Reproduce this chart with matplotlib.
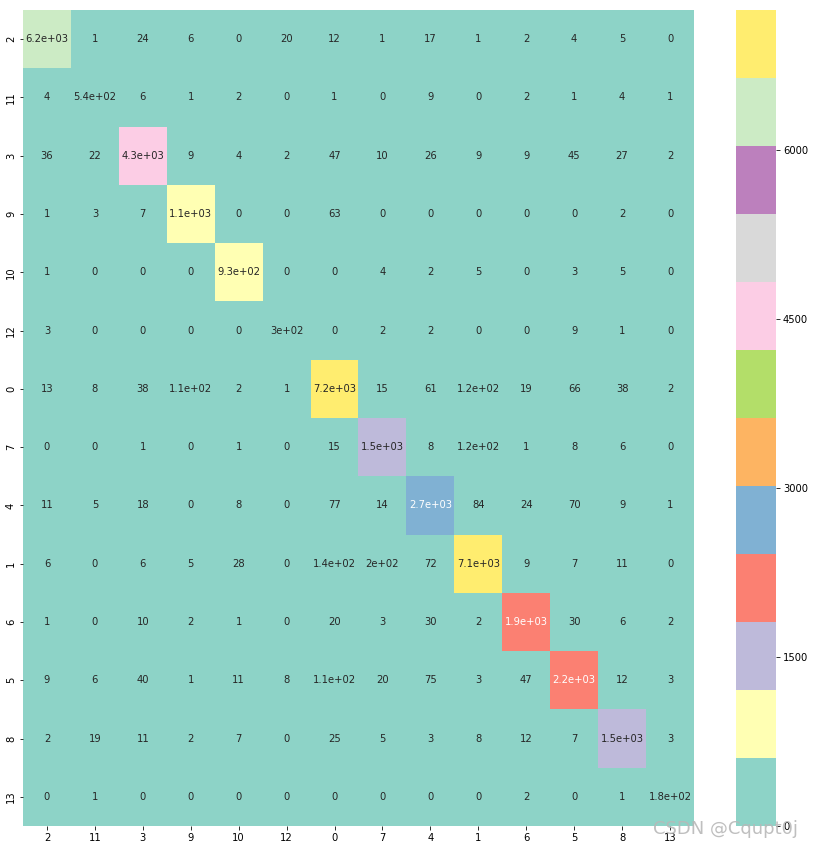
import numpy as np
import matplotlib
matplotlib.use("Agg")
import matplotlib.pyplot as plt
import seaborn as sns

LABELS = ["2", "11", "3", "9", "10", "12", "0", "7", "4", "1", "6", "5", "8", "13"]

ROW_2 = [6213, 1, 24, 6, 0, 20, 12, 1, 17, 1, 2, 4, 5, 0]
ROW_11 = [4, 542, 6, 1, 2, 0, 1, 0, 9, 0, 2, 1, 4, 1]
ROW_3 = [36, 22, 4312, 9, 4, 2, 47, 10, 26, 9, 9, 45, 27, 2]
ROW_9 = [1, 3, 7, 1104, 0, 0, 63, 0, 0, 0, 0, 0, 2, 0]
ROW_10 = [1, 0, 0, 0, 931, 0, 0, 4, 2, 5, 0, 3, 5, 0]
ROW_12 = [3, 0, 0, 0, 0, 301, 0, 2, 2, 0, 0, 9, 1, 0]
ROW_0 = [13, 8, 38, 108, 2, 1, 7243, 15, 61, 118, 19, 66, 38, 2]
ROW_7 = [0, 0, 1, 0, 1, 0, 15, 1496, 8, 123, 1, 8, 6, 0]
ROW_4 = [11, 5, 18, 0, 8, 0, 77, 14, 2702, 84, 24, 70, 9, 1]
ROW_1 = [6, 0, 6, 5, 28, 0, 138, 202, 72, 7081, 9, 7, 11, 0]
ROW_6 = [1, 0, 10, 2, 1, 0, 20, 3, 30, 2, 1893, 30, 6, 2]
ROW_5 = [9, 6, 40, 1, 11, 8, 112, 20, 75, 3, 47, 2189, 12, 3]
ROW_8 = [2, 19, 11, 2, 7, 0, 25, 5, 3, 8, 12, 7, 1512, 3]
ROW_13 = [0, 1, 0, 0, 0, 0, 0, 0, 0, 0, 2, 0, 1, 182]

CBAR_TICKS = [0, 1500, 3000, 4500, 6000]

cm = np.array([ROW_2, ROW_11, ROW_3, ROW_9, ROW_10, ROW_12, ROW_0,
               ROW_7, ROW_4, ROW_1, ROW_6, ROW_5, ROW_8, ROW_13])

W, H = 815, 850
fig = plt.figure(figsize=(W / 72, H / 72), dpi=72)
ax = fig.add_axes([23 / W, 24 / H, 671 / W, 816 / H])
cax = fig.add_axes([736 / W, 24 / H, 40 / W, 816 / H])

sns.heatmap(cm, annot=True, cmap="Set3", ax=ax, cbar_ax=cax,
            xticklabels=LABELS, yticklabels=LABELS)
cax.set_yticks(CBAR_TICKS)
cax.set_yticklabels([str(t) for t in CBAR_TICKS])

# watermark, as in the source image
fig.text(653 / W, 1 - 829 / H, "CSDN @Cqupt0j", fontsize=18,
         color="#b8b8b8", alpha=0.9, va="center", ha="left")

fig.savefig("out.png", dpi=72)
